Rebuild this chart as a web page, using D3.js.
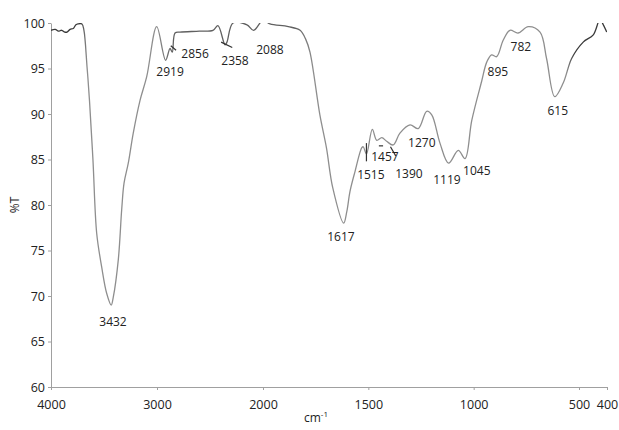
<!DOCTYPE html>
<html>
<head>
<meta charset="utf-8">
<script src="https://cdn.jsdelivr.net/npm/d3@7"></script>
<style>
body { margin: 0; background: #fff; }
text { font-family: "Open Sans", "Noto Sans", sans-serif; fill: #222; }
</style>
</head>
<body>
<div id="chart"></div>
<script>
// spectrum: wavenumber (cm-1) and transmittance (%T)
var wavenumbers = [4000, 3960, 3930, 3900, 3870, 3849, 3820, 3790, 3765, 3745, 3708, 3689, 3660, 3637, 3604, 3569, 3522, 3475, 3432, 3412, 3365, 3333, 3311, 3271, 3224, 3160, 3097, 3003, 2919, 2877, 2856, 2830, 2783, 2600, 2472, 2425, 2358, 2340, 2283, 2151, 2088, 2000, 1967, 1880, 1824, 1797, 1777, 1730, 1699, 1669, 1617, 1602, 1587, 1563, 1531, 1524, 1509, 1481, 1460, 1436, 1413, 1382, 1350, 1302, 1263, 1223, 1199, 1160, 1119, 1073, 1041, 1009, 962, 938, 915, 891, 860, 828, 789, 741, 685, 654, 615, 575, 535, 485, 449, 425, 413, 401];
var transmittance = [99.2, 99.3, 99.1, 99.2, 99.0, 99.0, 99.3, 99.4, 99.8, 99.9, 99.9, 99.2, 95.2, 91.5, 84.9, 76.9, 73.2, 70.3, 69.0, 69.9, 74.0, 79.5, 82.4, 84.6, 87.9, 91.5, 94.1, 99.6, 95.9, 97.2, 96.8, 98.9, 99.0, 99.1, 99.2, 99.7, 97.6, 97.9, 100.0, 99.8, 99.2, 100.3, 99.9, 99.6, 99.2, 98.2, 96.8, 89.9, 86.3, 81.9, 78.0, 79.3, 81.5, 83.7, 86.3, 86.4, 85.6, 88.3, 87.1, 87.4, 87.0, 86.6, 87.9, 88.8, 88.4, 90.3, 89.9, 86.8, 84.6, 86.0, 85.1, 89.3, 93.6, 95.7, 96.5, 96.3, 98.1, 99.2, 98.9, 99.6, 99.0, 96.1, 91.9, 93.4, 96.1, 97.9, 98.7, 100.4, 99.8, 99.0];

// peak annotations: label text and where the label sits (data units)
var peakLabels = ["3432", "2919", "2856", "2358", "2088", "1617", "1515", "1457", "1390", "1270", "1119", "1045", "895", "782", "615"];
var labelWn = [3415, 2877, 2641, 2264, 1967, 1630, 1488, 1421, 1307, 1246, 1127, 985, 885, 776, 601];
var labelT = [66.7, 94.2, 96.2, 95.4, 96.6, 76.0, 82.9, 84.8, 83.0, 86.4, 82.3, 83.3, 94.2, 96.9, 89.9];

// short leader marks: [wn1, T1, wn2, T2]
var leaders = [[2870, 97.5, 2820, 97.0], [2395, 97.9, 2290, 97.3], [1509, 86.8, 1509, 84.8], [1450, 86.5, 1430, 86.5], [1395, 86.4, 1370, 85.4]];

var xTicks = [4000, 3000, 2000, 1500, 1000, 500, 400];
var yTicks = [60, 65, 70, 75, 80, 85, 90, 95, 100];

var width = 619, height = 430;
var svg = d3.select("#chart").append("svg")
	.attr("width", width)
	.attr("height", height);

// the x axis is compressed above 2000 cm-1
var x = d3.scaleLinear()
	.domain([4000, 2000, 500, 400])
	.range([51, 263, 579, 607]);
var y = d3.scaleLinear()
	.domain([60, 100])
	.range([387, 23]);

var xAxis = d3.axisBottom(x)
	.tickValues(xTicks)
	.tickSizeInner(3)
	.tickSizeOuter(0)
	.tickPadding(8)
	.tickFormat(d3.format("d"));
var yAxis = d3.axisLeft(y)
	.tickValues(yTicks)
	.tickSizeInner(3)
	.tickSizeOuter(0)
	.tickPadding(3);

var gx = svg.append("g")
	.attr("transform", "translate(0," + y(60) + ")")
	.call(xAxis);
var gy = svg.append("g")
	.attr("transform", "translate(" + x(4000) + ",0)")
	.call(yAxis);
[gx, gy].forEach(function(g) {
	g.select(".domain").attr("stroke", "#a0a0a0");
	g.selectAll(".tick line").attr("stroke", "#a0a0a0");
	g.selectAll(".tick text").style("font-size", "12.5px").attr("fill", "#222");
});
gx.selectAll(".tick text").attr("dy", "0.9em");

svg.append("text")
	.attr("transform", "translate(19," + y(80) + ") rotate(-90)")
	.attr("text-anchor", "middle")
	.style("font-size", "12px")
	.text("%T");

var unit = svg.append("text")
	.attr("x", 304)
	.attr("y", 422)
	.style("font-size", "12px");
unit.append("tspan").text("cm");
unit.append("tspan").attr("dy", -5).style("font-size", "8px").text("-1");

// clip to plot area
svg.append("clipPath").attr("id", "plot")
	.append("rect")
	.attr("x", x(4000)).attr("y", y(100))
	.attr("width", x(400) - x(4000)).attr("height", y(60) - y(100));

// stroke darker at the flat ends, lighter through the bands
var grad = svg.append("linearGradient")
	.attr("id", "lineColor")
	.attr("gradientUnits", "userSpaceOnUse")
	.attr("x1", x(4000)).attr("x2", x(400))
	.attr("y1", 0).attr("y2", 0);
var span = x(400) - x(4000);
[[4000, "#3a3a3a"], [3720, "#3a3a3a"], [3660, "#8e8e8e"], [3000, "#8e8e8e"], [2850, "#606060"], [1850, "#606060"], [1760, "#8e8e8e"], [560, "#8e8e8e"], [520, "#3a3a3a"], [400, "#3a3a3a"]]
	.forEach(function(s) {
		grad.append("stop")
			.attr("offset", ((x(s[0]) - x(4000)) / span * 100) + "%")
			.attr("stop-color", s[1]);
	});

var points = wavenumbers.map(function(w, i) { return [w, transmittance[i]]; });
var line = d3.line()
	.x(function(d) { return x(d[0]); })
	.y(function(d) { return y(d[1]); })
	.curve(d3.curveCatmullRom.alpha(0.5));

svg.append("path")
	.datum(points)
	.attr("clip-path", "url(#plot)")
	.attr("fill", "none")
	.attr("stroke", "url(#lineColor)")
	.attr("stroke-width", 1.3)
	.attr("d", line);

svg.append("g").selectAll("line")
	.data(leaders)
	.enter()
	.append("line")
	.attr("x1", function(d) { return x(d[0]); })
	.attr("y1", function(d) { return y(d[1]); })
	.attr("x2", function(d) { return x(d[2]); })
	.attr("y2", function(d) { return y(d[3]); })
	.attr("stroke", "#333")
	.attr("stroke-width", 1.2);

svg.append("g").selectAll("text")
	.data(peakLabels)
	.enter()
	.append("text")
	.attr("x", function(d, i) { return x(labelWn[i]); })
	.attr("y", function(d, i) { return y(labelT[i]); })
	.attr("text-anchor", "middle")
	.style("font-size", "12px")
	.text(function(d) { return d; });
</script>
</body>
</html>
